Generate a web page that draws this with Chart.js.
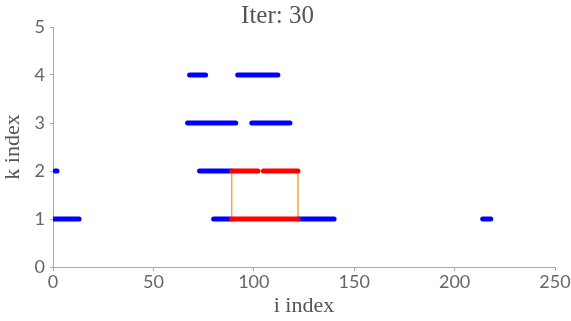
<!DOCTYPE html>
<html><head><meta charset="utf-8">
<script src="https://cdn.jsdelivr.net/npm/chart.js@4"></script>
<style>html,body{margin:0;padding:0;background:#fff}#w{width:571px;height:321px}</style>
</head><body><div id="w"><canvas id="c"></canvas></div>
<script>
// Segments: [k, iStart, iEnd]
const blueSegments = [
  [1, 0, 13], [1, 80, 89], [1, 122, 140], [1, 214, 218],
  [2, 1, 2], [2, 73, 89],
  [3, 67, 91], [3, 99, 118],
  [4, 68, 76], [4, 92, 112]
];
const redSegments = [
  [1, 89, 122],
  [2, 89, 102], [2, 104.8, 122]
];
const orangeX = [89, 89, 122, 122, 89];
const orangeY = [1, 2, 2, 1, 1];
const xTicks = [0, 50, 100, 150, 200, 250];
const yTicks = [0, 1, 2, 3, 4, 5];
const titleText = 'Iter: 30';

function segDataset(s, color, w, order) {
  return {data: [{x: s[1], y: s[0]}, {x: s[2], y: s[0]}], showLine: true, order,
    borderColor: color, backgroundColor: color, borderWidth: w, pointRadius: 0,
    borderCapStyle: 'round', borderJoinStyle: 'round'};
}
const datasets = [];
blueSegments.forEach(s => datasets.push(segDataset(s, '#0000ff', 5, 3)));
datasets.push({data: orangeX.map((x, i) => ({x, y: orangeY[i]})), showLine: true, order: 2,
  borderColor: '#f2a640', borderWidth: 1.5, pointRadius: 0});
redSegments.forEach(s => datasets.push(segDataset(s, '#ff0000', 5, 1)));

const tickFont = {family: 'Lato', size: 18};
const serif = 'Liberation Serif';
new Chart(document.getElementById('c'), {
  type: 'scatter',
  data: {datasets},
  options: {
    responsive: true, maintainAspectRatio: false, animation: false,
    layout: {padding: {left: 0, right: 16, top: 0, bottom: 0}},
    plugins: {legend: {display: false}, tooltip: {enabled: false},
      title: {display: true, text: titleText, color: '#555', font: {family: serif, size: 25, weight: 'normal', lineHeight: 1},
        padding: {top: 4, bottom: -2}}},
    scales: {
      x: {type: 'linear', min: 0, max: 250,
        afterBuildTicks: s => { s.ticks = xTicks.map(v => ({value: v})); },
        afterFit: s => { s.height = 54; s.paddingLeft = 0; s.paddingRight = 0; },
        ticks: {color: '#666', font: tickFont, padding: 0, maxRotation: 0},
        grid: {drawOnChartArea: false, tickLength: 4, color: '#aaa'},
        border: {color: '#aaa'},
        title: {display: true, text: 'i index', color: '#555', font: {family: serif, size: 22}, padding: {top: 0, bottom: 2}}},
      y: {type: 'linear', min: 0, max: 5,
        afterBuildTicks: s => { s.ticks = yTicks.map(v => ({value: v})); },
        afterFit: s => { s.width = 53; s.paddingTop = 0; s.paddingBottom = 0; },
        ticks: {color: '#666', font: tickFont, padding: 5},
        grid: {drawOnChartArea: false, tickLength: 3, color: '#aaa'},
        border: {color: '#aaa'},
        title: {display: true, text: 'k index', color: '#555', font: {family: serif, size: 22}, padding: {top: 0, bottom: 0}}}
    }
  }
});
</script></body></html>
